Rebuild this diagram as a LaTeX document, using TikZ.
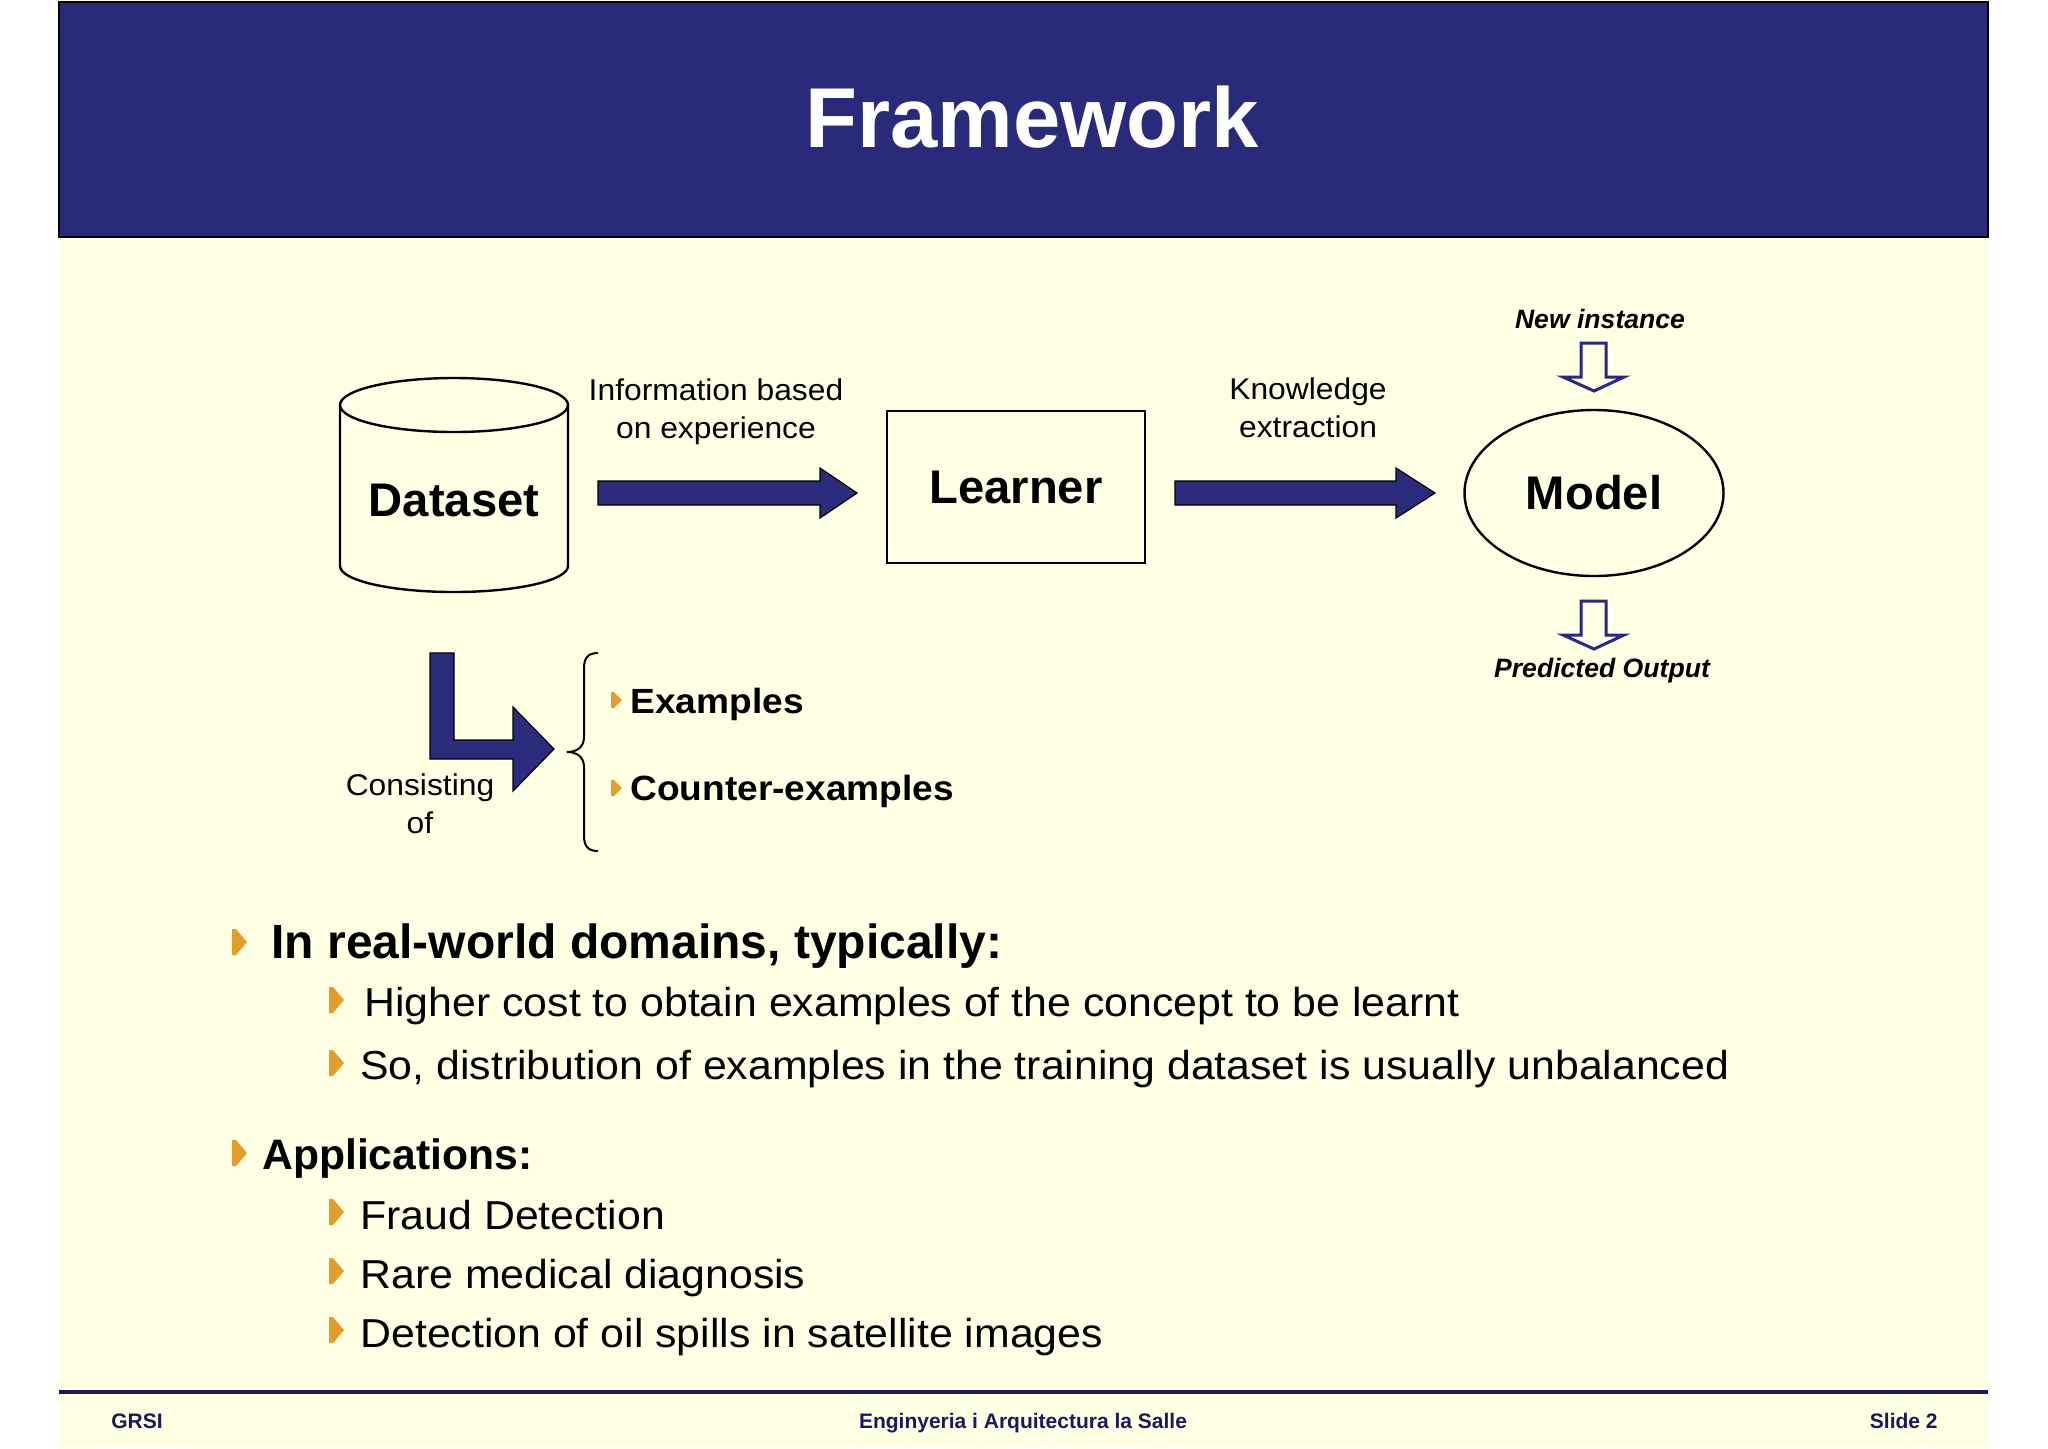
\documentclass[tikz,border=0pt]{standalone}
\usepackage{fontspec}
\setmainfont{Liberation Sans}
\newfontfamily\widefont[FakeStretch=1.06]{Liberation Sans}
\usetikzlibrary{shapes.geometric}
\definecolor{hdr}{RGB}{42,42,122}
\definecolor{arr}{RGB}{44,44,124}
\definecolor{hol}{RGB}{40,40,135}
\definecolor{bg}{RGB}{255,255,228}
\definecolor{orng}{RGB}{226,158,40}
\definecolor{foot}{RGB}{24,24,100}
\begin{document}
\begin{tikzpicture}[x=0.5pt,y=-0.5pt,
  txt/.style={inner sep=0pt},
  bigword/.style={txt,font=\bfseries\fontsize{23.6}{28}\selectfont},
  smalllbl/.style={txt,font=\widefont\fontsize{15}{19}\selectfont},
  bigarrow/.style={fill=arr,draw=black,line width=0.6pt,line join=miter},
  hollowarrow/.style={fill=bg,draw=hol,line width=1.5pt,line join=miter},
  shapeline/.style={line width=1.2pt},
  ital/.style={txt,font=\bfseries\itshape\fontsize{13.3}{16}\selectfont},
  lvlone/.style={txt,anchor=base west,font=\bfseries\fontsize{24}{28}\selectfont},
  lvltwo/.style={txt,anchor=base west,font=\widefont\fontsize{20.2}{24}\selectfont},
  footer/.style={txt,anchor=base,text=foot,font=\bfseries\fontsize{10.5}{12}\selectfont},
  bigbul/.pic={\fill[orng] (0,-13) -- (4,-13) -- (15,0) -- (4,13) -- (0,13) -- cycle;},
  smallbul/.pic={\fill[orng] (0,-8) -- (3,-8) -- (11,0) -- (3,8) -- (0,8) -- cycle;}
]
\useasboundingbox (0,0) rectangle (2048,1448);
\fill[white] (0,0) rectangle (2048,1448);
\fill[bg] (59,0) rectangle (1988,1448);
% header
\draw[fill=hdr,draw=black,line width=1.2pt] (59,2) rectangle (1988,237);
\node[txt,anchor=base,text=white,font=\bfseries\fontsize{42.5}{50}\selectfont] (title) at (1032,147) {Framework};

% dataset cylinder
\draw[shapeline,fill=bg] (340,405) -- (340,566) arc[start angle=180,end angle=0,x radius=114,y radius=26] -- (568,405);
\draw[shapeline] (454,405) ellipse [x radius=114,y radius=27];
\node[bigword] (dataset) at (454,500) {Dataset};

% arrow dataset -> learner
\draw[bigarrow] (598,481) -- (820,481) -- (820,468) -- (857,493) -- (820,518) -- (820,505) -- (598,505) -- cycle;
\node[smalllbl,anchor=base] (info) at (716,400) {\begin{tabular}[t]{@{}c@{}}Information based\\on experience\end{tabular}};

% learner
\node[draw,shapeline,txt,minimum width=129pt,minimum height=76pt,font=\bfseries\fontsize{23.6}{28}\selectfont] (learner) at (1016,487) {Learner};

% arrow learner -> model
\draw[bigarrow] (1175,481) -- (1396,481) -- (1396,468) -- (1435,493) -- (1396,518) -- (1396,505) -- (1175,505) -- cycle;
\node[smalllbl,anchor=base] (know) at (1308,399) {\begin{tabular}[t]{@{}c@{}}Knowledge\\extraction\end{tabular}};

% model
\node[ellipse,draw,shapeline,txt,minimum width=129.5pt,minimum height=83pt,font=\bfseries\fontsize{23.6}{28}\selectfont] (model) at (1594,493) {Model};

% new instance / predicted output
\node[ital,anchor=base] (newinst) at (1600,328) {New instance};
\draw[hollowarrow] (1581,343) -- (1606,343) -- (1606,377) -- (1624,377) -- (1594,391) -- (1563,377) -- (1581,377) -- cycle;
\draw[hollowarrow] (1581,601) -- (1606,601) -- (1606,635) -- (1624,635) -- (1594,649) -- (1563,635) -- (1581,635) -- cycle;
\node[ital,anchor=base] (predout) at (1602,677) {Predicted Output};

% L-shaped arrow
\draw[bigarrow] (430,653) -- (454,653) -- (454,740) -- (513,740) -- (513,707) -- (554,749) -- (513,791) -- (513,759) -- (430,759) -- cycle;
\node[smalllbl,anchor=base] (consist) at (420,795) {\begin{tabular}[t]{@{}c@{}}Consisting\\of\end{tabular}};

% brace
\draw[line width=1pt] (598,653) .. controls (588,653) and (584,658) .. (584,668) -- (584,737)
  .. controls (584,747) and (577,752) .. (567,752)
  .. controls (577,752) and (584,757) .. (584,767) -- (584,836)
  .. controls (584,846) and (588,851) .. (598,851);

\pic at (611,700) {smallbul};
\node[txt,anchor=base west,font=\widefont\bfseries\fontsize{17.5}{20}\selectfont] (ex) at (630,713) {Examples};
\pic at (611,788) {smallbul};
\node[txt,anchor=base west,font=\widefont\bfseries\fontsize{17.5}{20}\selectfont] (cex) at (630,800) {Counter-examples};

% bullet list
\pic at (232,942) {bigbul};
\node[lvlone] (b1) at (271,958) {In real-world domains, typically:};
\pic at (329,1000) {bigbul};
\node[lvltwo] (b11) at (364,1016) {Higher cost to obtain examples of the concept to be learnt};
\pic at (329,1063) {bigbul};
\node[lvltwo] (b12) at (360,1079) {So, distribution of examples in the training dataset is usually unbalanced};

\pic at (232,1153) {bigbul};
\node[txt,anchor=base west,font=\bfseries\fontsize{21.3}{25}\selectfont] (b2) at (262,1169) {Applications:};
\pic at (329,1212) {bigbul};
\node[lvltwo] (b21) at (360,1229) {Fraud Detection};
\pic at (329,1271) {bigbul};
\node[lvltwo] (b22) at (360,1288) {Rare medical diagnosis};
\pic at (329,1330) {bigbul};
\node[lvltwo] (b23) at (360,1347) {Detection of oil spills in satellite images};

% footer
\draw[foot,line width=1.7pt] (59,1392) -- (1988,1392);
\node[footer,anchor=base west] (grsi) at (111,1428) {GRSI};
\node[footer] (eng) at (1023,1428) {Enginyeria i Arquitectura la Salle};
\node[footer,anchor=base east] (slide) at (1938,1428) {Slide 2};
\end{tikzpicture}
\end{document}
